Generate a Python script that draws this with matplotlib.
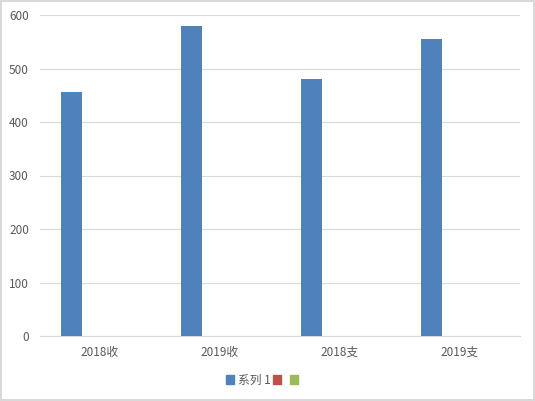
import numpy as np
import matplotlib.pyplot as plt
from matplotlib.patches import Patch

plt.rcParams['font.family'] = ['Noto Sans CJK SC', 'DejaVu Sans']

categories = ['2018收', '2019收', '2018支', '2019支']
series1 = [457, 580, 481, 556]
series2 = [0, 0, 0, 0]
series3 = [0, 0, 0, 0]
series_names = ['系列 1', ' ', ' ']
colors = ['#4f81bd', '#c0504d', '#9bbb59']

fig = plt.figure(figsize=(5.35, 4.01), dpi=100)
fig.patch.set_edgecolor('#d9d9d9')
fig.patch.set_linewidth(1.5)
ax = fig.add_axes([40 / 535, 65 / 401, 480 / 535, 321 / 401])

x = np.arange(len(categories))
w = 0.175
offsets = [-0.2375, 0.0, 0.2375]
for vals, off, c in zip([series1, series2, series3], offsets, colors):
    ax.bar(x + off, vals, width=w, color=c, zorder=3)

ax.set_xlim(-0.5, 3.5)
ax.set_ylim(0, 600)
ax.set_yticks(range(0, 601, 100))
ax.set_xticks(x)
ax.set_xticklabels(categories)
ax.grid(axis='y', color='#d9d9d9', linewidth=0.8, zorder=0)
for s in ['left', 'right', 'top']:
    ax.spines[s].set_visible(False)
ax.spines['bottom'].set_color('#d9d9d9')
ax.tick_params(axis='both', length=0, colors='#595959', labelsize=8.5)
ax.tick_params(axis='y', pad=8)
ax.tick_params(axis='x', pad=7)

handles = [Patch(color=c) for c in colors]
fig.legend(handles, series_names, loc='center', bbox_to_anchor=(265 / 535, 1 - 380 / 401),
           ncol=3, frameon=False, fontsize=8.5, handlelength=0.7, handleheight=0.7,
           handletextpad=0.3, columnspacing=0.2, labelcolor='#595959')

fig.savefig('out.png', dpi=100, edgecolor=fig.get_edgecolor())
